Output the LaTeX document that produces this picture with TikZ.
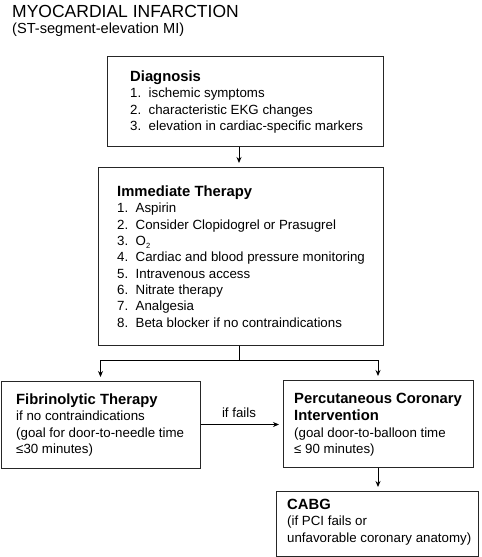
\documentclass[tikz,border=0pt]{standalone}
\usepackage{fontspec}
\setmainfont{Liberation Sans}
\usetikzlibrary{arrows.meta}
\newcommand{\itm}[1]{\makebox[18.5pt][l]{#1}}
\newcommand{\hdf}{\fontsize{14.8}{16.3}\selectfont\bfseries}
\newcommand{\subtwo}{\raisebox{-3pt}{\fontsize{7.5}{8}\selectfont 2}}
\begin{document}
\begin{tikzpicture}[x=1pt,y=-1pt,
  box/.style={draw=black!85, line width=1pt, inner sep=0pt},
  txt/.style={anchor=base west, align=left, inner sep=0pt,
    font=\fontsize{13.3}{16.3}\selectfont},
  arr/.style={line width=0.9pt, -{Stealth[length=6pt,width=5pt]}, shorten >=3.5pt},
  ln/.style={line width=0.9pt}]
\useasboundingbox (0,0) rectangle (482,557);
% title
\node[anchor=base west, inner sep=0pt, font=\fontsize{17.5}{20}\selectfont] (title) at (12,17) {MYOCARDIAL INFARCTION};
\node[anchor=base west, inner sep=0pt, font=\fontsize{14.6}{17}\selectfont] (subtitle) at (12,33) {(ST-segment-elevation MI)};
% boxes
\node[box, minimum width=276pt, minimum height=90pt] (diag) at (245,101) {};
\node[box, minimum width=285pt, minimum height=178pt] (imm) at (240.5,256) {};
\node[box, minimum width=199pt, minimum height=87pt] (fib) at (100.5,424.5) {};
\node[box, minimum width=190pt, minimum height=87pt] (pci) at (378,423.5) {};
\node[box, minimum width=202pt, minimum height=65pt] (cabg) at (377,523.5) {};
% texts (anchored at the baseline of the last line)
\node[txt] (diagT) at (130,130.5) {{\hdf Diagnosis}\\
  \itm{1.}ischemic symptoms\\
  \itm{2.}characteristic EKG changes\\
  \itm{3.}elevation in cardiac-specific markers};
\node[txt] (immT) at (117,327) {{\hdf Immediate Therapy}\\
  \itm{1.}Aspirin\\
  \itm{2.}Consider Clopidogrel or Prasugrel\\
  \itm{3.}O\subtwo\\
  \itm{4.}Cardiac and blood pressure monitoring\\
  \itm{5.}Intravenous access\\
  \itm{6.}Nitrate therapy\\
  \itm{7.}Analgesia\\
  \itm{8.}Beta blocker if no contraindications};
\node[txt] (fibT) at (16,453.5) {{\hdf Fibrinolytic Therapy}\\
  if no contraindications\\
  (goal for door-to-needle time\\
  ≤30 minutes)};
\node[txt] (pciT) at (294,453.5) {{\hdf Percutaneous Coronary}\\[1.5pt]
  {\hdf Intervention}\\
  (goal door-to-balloon time\\
  ≤ 90 minutes)};
\node[txt] (cabgT) at (287,542) {{\hdf CABG}\\
  (if PCI fails or\\
  unfavorable coronary anatomy)};
% connectors
\coordinate (j) at (239,360);
\draw[arr] (diag.south -| j) -- (imm.north -| j);
\draw[ln] (imm.south -| j) -- (j);
\draw[arr] (j) -| (fib.north);
\draw[arr] (j) -| (pci.north);
\draw[arr] (fib.east) -- (fib.east -| pci.west)
  node[pos=0.47, anchor=base, yshift=7pt, inner sep=0pt, font=\fontsize{13.3}{16}\selectfont] (fails) {if fails};
\draw[arr] (pci.south) -- (cabg.north -| pci.south);
\end{tikzpicture}
\end{document}
